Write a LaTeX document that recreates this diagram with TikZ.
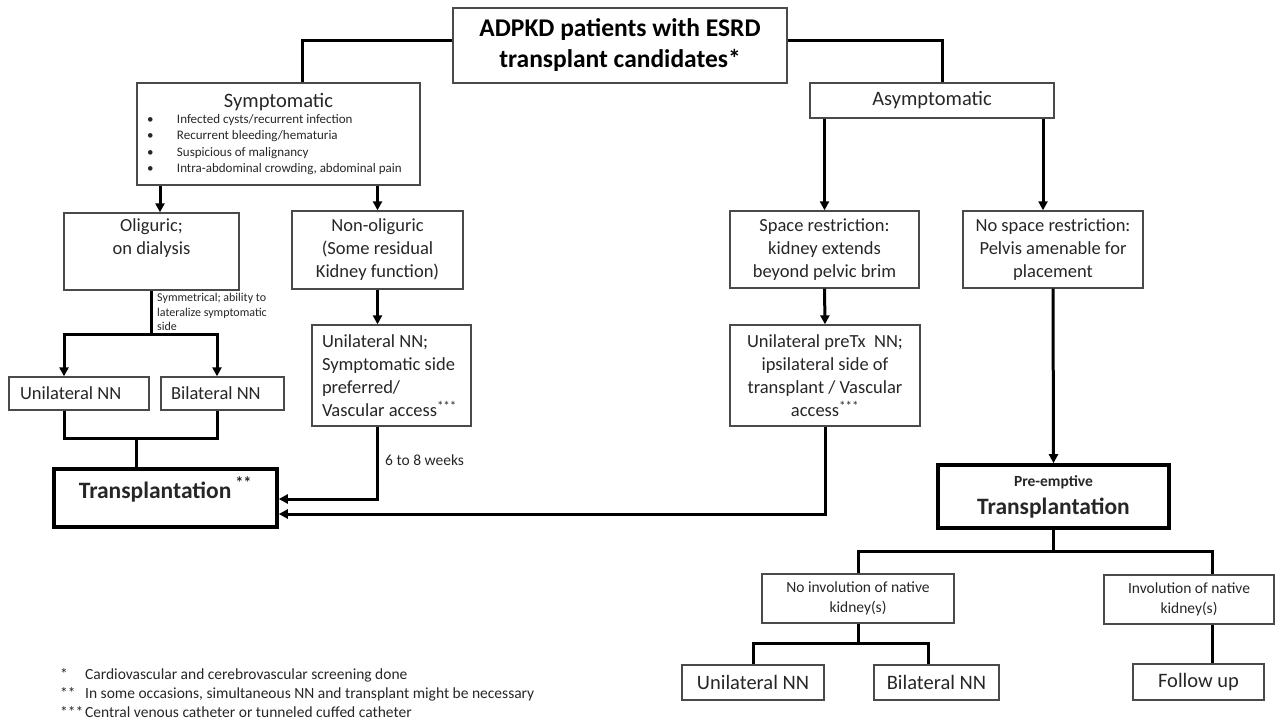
\documentclass[tikz,border=0pt]{standalone}
\usepackage{fontspec}
\setmainfont{Carlito}
\usetikzlibrary{arrows.meta}
\definecolor{ink}{HTML}{262626}
\definecolor{rim}{HTML}{4A4A4A}
\newcommand{\midfont}{\fontsize{18.5}{23}\selectfont}
\newcommand{\bigfont}{\fontsize{20.5}{24}\selectfont}
\newcommand{\smallfont}{\fontsize{15.5}{20}\selectfont}
\tikzset{
	flowbox/.style={draw=rim, line width=1.4pt, inner sep=0pt, align=center, text=ink},
	heavybox/.style={draw=black, line width=3.6pt, inner sep=0pt, text=ink},
	link/.style={draw=black, line width=3pt},
	arrlink/.style={link, -{Triangle[length=9pt,width=9pt]}},
}

\begin{document}
\begin{tikzpicture}[x=1pt,y=-1pt]
		%%%%% START %%%%%
		\useasboundingbox (0,0) rectangle (1276,721);
		
		\node[flowbox, minimum width=334pt, minimum height=75pt, text=black, font=\bfseries\fontsize{25.5}{31}\selectfont] (top) at (620,45.5) {ADPKD patients with ESRD\\transplant candidates*};
		
		\node[flowbox, minimum width=283pt, minimum height=102pt, text width=263pt, align=flush left] (sympt) at (278.5,134) {%
			{\bigfont\makebox[263pt]{Symptomatic}\par}
			\fontsize{13}{16.3}\selectfont
			\makebox[30pt][l]{\textbullet}Infected cysts/recurrent infection\\
			\makebox[30pt][l]{\textbullet}Recurrent bleeding/hematuria\\
			\makebox[30pt][l]{\textbullet}Suspicious of malignancy\\
			\makebox[30pt][l]{\textbullet}Intra-abdominal crowding, abdominal pain\par};
		\node[flowbox, minimum width=244pt, minimum height=35pt, font=\bigfont] (asym) at (932,100.5) {Asymptomatic};
		
		% symptomatic side
		\node[flowbox, minimum width=175pt, minimum height=77pt, font=\midfont] (olig) at (151.5,251.5) {Oliguric;\\on dialysis\\\strut};
		\node[flowbox, minimum width=171pt, minimum height=78pt, font=\midfont] (nonolig) at (377.5,250) {Non-oliguric\\(Some residual\\Kidney function)};
		\node[flowbox, minimum width=140pt, minimum height=33pt, text width=118pt, align=flush left, font=\midfont] (uniL) at (79,393.5) {Unilateral NN};
		\node[flowbox, minimum width=123pt, minimum height=33pt, text width=103pt, align=flush left, font=\midfont] (bilL) at (222.5,393.5) {Bilateral NN};
		\node[flowbox, minimum width=159pt, minimum height=101pt, text width=139pt, align=flush left, font=\midfont] (uniS) at (391.5,375.5) {Unilateral NN;\\Symptomatic side\\preferred/\\Vascular access\textsuperscript{***}};
		\node[heavybox, minimum width=223pt, minimum height=58pt, text height=17pt, text depth=17pt, font=\bfseries\fontsize{23.5}{28}\selectfont] (transL) at (165.5,498) {Transplantation\,\textsuperscript{**}};
		
		\node[anchor=north west, inner sep=0pt, align=left, text=ink, font=\fontsize{12}{14.5}\selectfont] (symlbl) at (157,293) {Symmetrical; ability to\\lateralize symptomatic\\side};
		\node[anchor=west, inner sep=0pt, text=ink, font=\fontsize{15.5}{18}\selectfont] (weeks) at (385,460) {6 to 8 weeks};
		
		% asymptomatic side
		\node[flowbox, minimum width=189pt, minimum height=77pt, font=\midfont] (space) at (824.5,249.5) {Space restriction:\\kidney extends\\beyond pelvic brim};
		\node[flowbox, minimum width=180pt, minimum height=77pt, font=\midfont] (nospace) at (1053,249.5) {No space restriction:\\Pelvis amenable for\\placement};
		\node[flowbox, minimum width=190pt, minimum height=101pt, font=\midfont] (pretx) at (825,375.5) {Unilateral preTx\ \ NN;\\ipsilateral side of\\transplant / Vascular\\access\textsuperscript{***}};
		\node[heavybox, align=center, minimum width=231pt, minimum height=63pt, font=\bfseries\fontsize{23.5}{28}\selectfont] (preemp) at (1053.5,496.5) {{\fontsize{15.5}{18}\selectfont Pre-emptive}\\Transplantation};
		
		\node[flowbox, minimum width=192pt, minimum height=49pt, font=\smallfont] (noinv) at (858,598.5) {No involution of native\\kidney(s)};
		\node[flowbox, minimum width=170pt, minimum height=49pt, font=\smallfont] (inv) at (1189,599.5) {Involution of native\\kidney(s)};
		\node[flowbox, minimum width=142pt, minimum height=35pt, font=\bigfont] (uniR) at (753,682.5) {Unilateral NN};
		\node[flowbox, minimum width=125pt, minimum height=35pt, font=\bigfont] (bilR) at (936.5,682.5) {Bilateral NN};
		\node[flowbox, minimum width=131pt, minimum height=36pt, font=\bigfont] (fup) at (1198.5,682) {Follow up};
		
		\node[anchor=north west, inner sep=0pt, align=left, text=ink, font=\fontsize{15.5}{19}\selectfont] (notes) at (60,668) {\makebox[25pt][l]{*}Cardiovascular and cerebrovascular screening done\\\makebox[25pt][l]{**}In some occasions, simultaneous NN and transplant might be necessary\\\makebox[25pt][l]{***}Central venous catheter or tunneled cuffed catheter};
		
		% connectors
		\draw[link] ([yshift=5.5pt]top.west) -| ([xshift=23.5pt]sympt.north);
		\draw[link] ([yshift=5.5pt]top.east) -| ([xshift=10pt]asym.north);
		
		\coordinate (oligin) at ([xshift=8.5pt]olig.north);
		\draw[arrlink] (sympt.south -| oligin) -- (oligin);
		\draw[arrlink] (sympt.south -| nonolig.north) -- (nonolig.north);
		
		\coordinate (uniLin) at ([xshift=-15pt]uniL.north);
		\coordinate (bilLin) at ([xshift=-5.5pt]bilL.north);
		\draw[link] (olig.south) -- ++(0,44) coordinate (olb);
		\draw[arrlink] (olb) -| (uniLin);
		\draw[arrlink] (olb) -| (bilLin);
		
		\coordinate (uniLout) at ([xshift=-15pt]uniL.south);
		\coordinate (bilLout) at ([xshift=-5.5pt]bilL.south);
		\coordinate (transin) at ([xshift=-29.5pt]transL.north);
		\draw[link] (uniLout) -- ++(0,28) coordinate (jn) -| (bilLout);
		\draw[link] (jn -| transin) -- (transin);
		
		\draw[arrlink] (nonolig.south) -- (uniS.north -| nonolig.south);
		\draw[arrlink] (uniS.south -| nonolig.south) |- ([yshift=-1pt]transL.east);
		
		\coordinate (nsin) at ([xshift=-10pt]nospace.north);
		\draw[arrlink] (asym.south -| space.north) -- (space.north);
		\draw[arrlink] (asym.south -| nsin) -- (nsin);
		\draw[arrlink] (space.south) -- (pretx.north);
		\draw[arrlink] (pretx.south) |- ([yshift=-16pt]transL.east);
		\draw[arrlink] (nospace.south) -- (preemp.north);
		
		\coordinate (invout) at ([xshift=23pt]inv.south);
		\coordinate (bilRin) at ([xshift=-8.5pt]bilR.north);
		\draw[link] (preemp.south) -- ++(0,22) coordinate (pb) -| (noinv.north);
		\draw[link] (pb) -| ([xshift=23pt]inv.north);
		\draw[link] (noinv.south) -- ++(0,20) coordinate (nb) -| (uniR.north);
		\draw[link] (nb) -| (bilRin);
		\draw[link] (invout) -- (invout |- fup.north);
		
		%%%%% END %%%%%
\end{tikzpicture}
\end{document}
